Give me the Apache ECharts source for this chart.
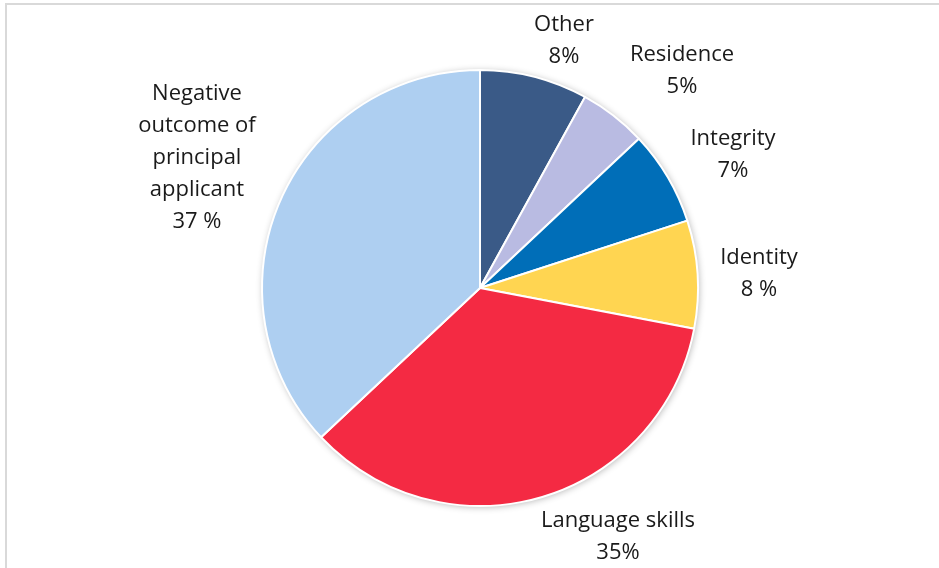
<!DOCTYPE html>
<html>
<head>
<meta charset="utf-8">
<script src="https://cdn.jsdelivr.net/npm/echarts@6/dist/echarts.min.js"></script>
<style>
  html, body { margin: 0; padding: 0; background: #ffffff; }
  #chart { width: 939px; height: 568px; }
</style>
</head>
<body>
<div id="chart"></div>
<script>
// Reasons for refusal, share of cases (clockwise from 12 o'clock)
const categories = ['Other', 'Residence', 'Integrity', 'Identity', 'Language skills', 'Negative\noutcome of\nprincipal\napplicant'];
const shares = [8, 5, 7, 8, 35, 37];
const percentSeparators = ['', '', '', ' ', '', ' '];
const sliceColors = ['#3A5A87', '#B9BBE2', '#006EB8', '#FFD551', '#F42A43', '#AECFF1'];

// Label anchor points (block centres) for each slice
const labelAnchors = [[564, 41], [682, 71], [733, 155], [759, 274], [618, 537], [197, 158]];

const chart = echarts.init(document.getElementById('chart'), null, { renderer: 'canvas' });

const center = [480, 288];
const radius = 218;

chart.setOption({
  animation: false,
  backgroundColor: '#ffffff',
  graphic: [{
    type: 'rect',
    shape: { x: 6, y: 4, width: 1200, height: 1200 },
    style: { fill: 'none', stroke: '#D9D9D9', lineWidth: 2 },
    silent: true,
    z: 0
  }],
  series: [
    {
      // soft drop shadow behind the disc
      type: 'pie',
      silent: true,
      center: center,
      radius: radius,
      z: 1,
      label: { show: false },
      labelLine: { show: false },
      itemStyle: {
        color: '#ffffff',
        shadowBlur: 7,
        shadowOffsetX: 1,
        shadowOffsetY: 1,
        shadowColor: 'rgba(0,0,0,0.30)'
      },
      data: [{ value: 1, name: '' }]
    },
    {
      type: 'pie',
      center: center,
      radius: radius,
      startAngle: 90,
      clockwise: true,
      z: 2,
      itemStyle: { borderColor: '#ffffff', borderWidth: 2 },
      label: {
        show: true,
        position: 'outside',
        fontFamily: '"Open Sans", "Noto Sans", sans-serif',
        fontSize: 22,
        lineHeight: 32,
        color: '#1a1a1a',
        align: 'center',
        formatter: function (p) {
          return p.name + '\n' + p.value + percentSeparators[p.dataIndex] + '%';
        }
      },
      labelLine: { show: false },
      labelLayout: function (params) {
        const a = labelAnchors[params.dataIndex];
        return { x: a[0], y: a[1], align: 'center', verticalAlign: 'middle' };
      },
      data: categories.map(function (name, i) {
        return { name: name, value: shares[i], itemStyle: { color: sliceColors[i] } };
      })
    }
  ]
});
</script>
</body>
</html>
